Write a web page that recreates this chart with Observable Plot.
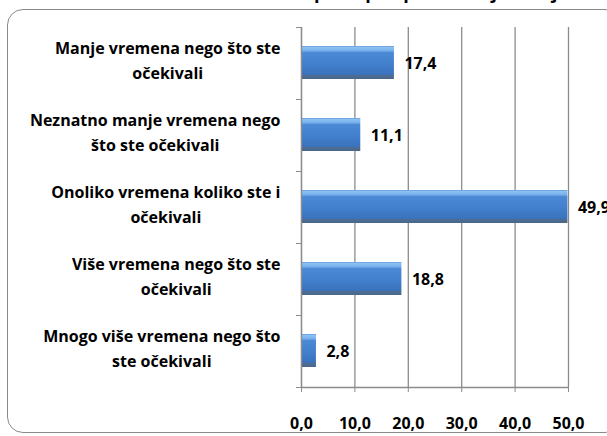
<!DOCTYPE html>
<html><head><meta charset="utf-8">
<script src="https://cdn.jsdelivr.net/npm/d3@7"></script>
<script src="https://cdn.jsdelivr.net/npm/@observablehq/plot@0.6"></script>
<style>
html,body{margin:0;padding:0;background:#fff;overflow:hidden;}
#wrap{position:relative;width:607px;height:436px;overflow:hidden;font-family:"Open Sans",sans-serif;}
#title{position:absolute;left:0;right:0;top:-20px;line-height:22px;text-align:center;font:bold 18px "Open Sans",sans-serif;white-space:nowrap;color:#000;}
#frame{position:absolute;left:7px;top:9px;width:614px;height:424px;border:1.3px solid #8a8a8a;border-radius:16px;box-sizing:border-box;}
#chart{position:absolute;left:0;top:0;}
</style></head><body>
<div id="wrap"><div id="title">Koliko ste Vi vremena utrošili na postupak podnošenja zahtjeva</div><div id="frame"></div><div id="chart"></div></div>
<script>
const categories = [
  "Manje vremena nego što ste očekivali",
  "Neznatno manje vremena nego što ste očekivali",
  "Onoliko vremena koliko ste i očekivali",
  "Više vremena nego što ste očekivali",
  "Mnogo više vremena nego što ste očekivali"
];
const labelLines = [
  ["Manje vremena nego što ste", "očekivali"],
  ["Neznatno manje vremena nego", "što ste očekivali"],
  ["Onoliko vremena koliko ste i", "očekivali"],
  ["Više vremena nego što ste", "očekivali"],
  ["Mnogo više vremena nego što", "ste očekivali"]
];
const values = [17.4, 11.1, 49.9, 18.8, 2.8];
const xTicks = [0, 10, 20, 30, 40, 50];

const data = categories.map((c, i) => ({cat: c, value: values[i], lines: labelLines[i]}));
const fmt = d => d.toFixed(1).replace(".", ",");

const W = 607, H = 436, mL = 301, mR = 39, mT = 27, mB = 49;
const step = (H - mT - mB) / categories.length;
const FONT = "Open Sans";
const LABEL_SIZE = 16;
const ctx = document.createElement("canvas").getContext("2d");
ctx.font = `bold ${LABEL_SIZE}px "${FONT}"`;

const labelMarks = data.map(d => {
  const w = Math.max(...d.lines.map(l => ctx.measureText(l).width));
  return Plot.text([d], {
    y: "cat", text: r => r.lines.join("\n"), frameAnchor: "left",
    textAnchor: "middle", dx: -(21 + w / 2), dy: -5, lineHeight: 1.56,
    fontSize: LABEL_SIZE, fontWeight: "bold", fill: "#000"
  });
});

const plot = Plot.plot({
  width: W, height: H,
  marginLeft: mL, marginRight: mR, marginTop: mT, marginBottom: mB,
  style: {fontFamily: `"${FONT}", sans-serif`, background: "transparent", overflow: "visible"},
  x: {domain: [0, 50]},
  y: {domain: categories, padding: 0},
  marks: [
    Plot.gridX({ticks: xTicks, stroke: "#8c8c8c", strokeOpacity: 1, strokeWidth: 1.3}),
    Plot.barX(data, {x: "value", y: "cat", fill: "url(#barGrad)", insetTop: 19, insetBottom: 20}),
    Plot.ruleX([0], {stroke: "#8c8c8c", strokeWidth: 1.3}),
    Plot.ruleY([categories[categories.length - 1]], {dy: step / 2, stroke: "#8c8c8c", strokeWidth: 1.3}),
    Plot.axisY({tickSize: 5, tickFormat: () => "", dy: -step / 2, stroke: "#8c8c8c", label: null}),
    Plot.axisY({ticks: [categories[categories.length - 1]], tickSize: 5, tickFormat: () => "", dy: step / 2, stroke: "#8c8c8c", label: null}),
    Plot.axisX({ticks: xTicks, tickFormat: fmt, tickSize: 5, tickPadding: 25, stroke: "#8c8c8c",
      fontSize: 16, fontWeight: "bold", fill: "#000", label: null}),
    Plot.text(data, {x: "value", y: "cat", text: d => fmt(d.value), dx: 10, textAnchor: "start",
      fontSize: 16, fontWeight: "bold", fill: "#000"}),
    ...labelMarks
  ]
});

const defs = d3.select(plot).insert("defs", ":first-child");
const g = defs.append("linearGradient").attr("id", "barGrad").attr("x1", 0).attr("y1", 0).attr("x2", 0).attr("y2", 1);
[[0, "#5b95da"], [0.04, "#8cc2f4"], [0.14, "#78b0ec"], [0.2, "#4c89d5"], [0.55, "#427fcc"],
 [0.86, "#3a72bd"], [0.89, "#4d6d93"], [1, "#4a6789"]].forEach(([o, c]) =>
  g.append("stop").attr("offset", o).attr("stop-color", c));

document.getElementById("chart").appendChild(plot);
</script>
</body></html>
